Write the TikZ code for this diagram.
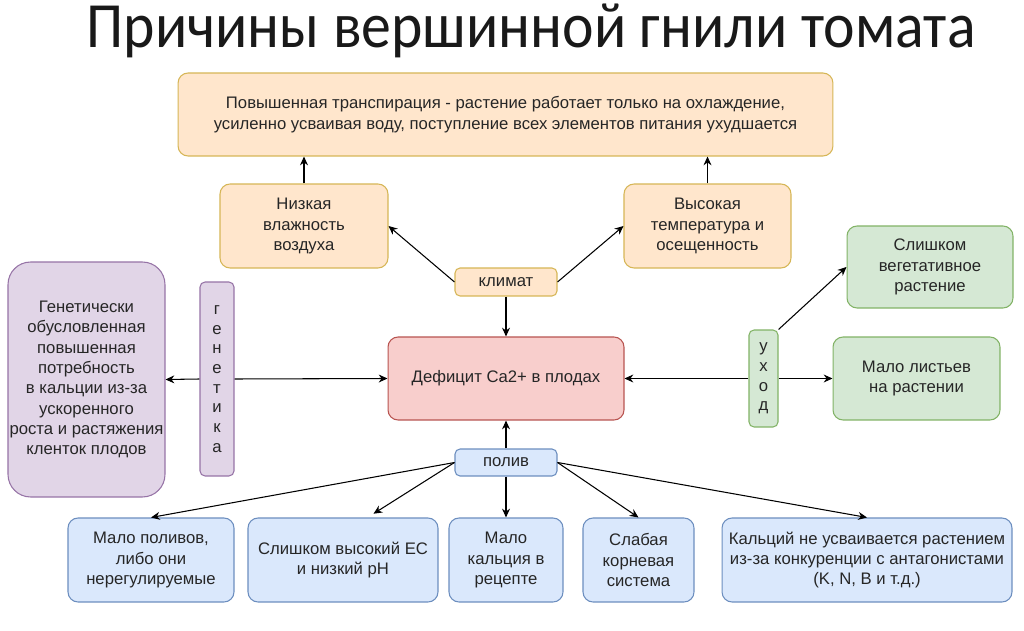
\documentclass[tikz,border=0pt]{standalone}
\usepackage{fontspec}
\usepackage{graphicx}
\setmainfont{Liberation Sans}
\newfontfamily\titlefont{Carlito}
\usetikzlibrary{arrows.meta}
\definecolor{orfill}{HTML}{FFE6CC}
\definecolor{ordraw}{HTML}{D6B656}
\definecolor{redfill}{HTML}{F8CECC}
\definecolor{reddraw}{HTML}{B85450}
\definecolor{purfill}{HTML}{E1D5E7}
\definecolor{purdraw}{HTML}{9673A6}
\definecolor{grfill}{HTML}{D5E8D4}
\definecolor{grdraw}{HTML}{82B366}
\definecolor{blfill}{HTML}{DAE8FC}
\definecolor{bldraw}{HTML}{6C8EBF}
\begin{document}
\begin{tikzpicture}[x=0.02cm,y=-0.02cm,
    every node/.style={font=\fontsize{9.5}{11.6}\selectfont,text=black!85,align=center},
    box/.style={draw,rounded corners=0.2cm,line width=0.6pt,inner sep=2pt},
    orbox/.style={box,fill=orfill,draw=ordraw},
    redbox/.style={box,fill=redfill,draw=reddraw},
    purbox/.style={box,fill=purfill,draw=purdraw},
    grbox/.style={box,fill=grfill,draw=grdraw},
    blbox/.style={box,fill=blfill,draw=bldraw},
    letters/.style={font=\fontsize{9.5}{11.2}\selectfont},
    arr/.style={-{Stealth[length=5pt,width=4.5pt]},line width=0.6pt}]
    \useasboundingbox[fill=white] (0,0) rectangle (1024,631);
    \node[anchor=base,text=black!90,inner sep=0pt] (title) at (531,48)
        {\titlefont\scalebox{1}[1.08]{\fontsize{34}{38}\selectfont Причины вершинной гнили томата}};
    % climate
    \node[orbox,minimum width=13.1cm,minimum height=1.66cm] (transp) at (505.5,114.5)
        {Повышенная транспирация - растение работает только на охлаждение,\\
         усиленно усваивая воду, поступление всех элементов питания ухудшается};
    \node[orbox,minimum width=3.36cm,minimum height=1.68cm] (humid) at (304,226) {Низкая\\влажность\\воздуха};
    \node[orbox,minimum width=3.34cm,minimum height=1.68cm] (heat) at (707.5,226) {Высокая\\температура и\\осещенность};
    \node[orbox,rounded corners=0.1cm,minimum width=2.04cm,minimum height=0.56cm] (klimat) at (506,282) {климат};
    % centre
    \node[redbox,minimum width=4.72cm,minimum height=1.66cm] (defic) at (506,378.5) {Дефицит Ca2+ в плодах};
    % genetics
    \node[purbox,letters,rounded corners=0.1cm,minimum width=0.68cm,minimum height=3.88cm] (genet) at (217,379)
        {г\\е\\н\\е\\т\\и\\к\\а};
    \node[purbox,rounded corners=0.45cm,minimum width=3.14cm,minimum height=4.7cm,inner sep=0pt] (gendemand) at (86.5,379.5)
        {Генетически\\обусловленная\\повышенная\\потребность\\в кальции из-за\\ускоренного\\роста и растяжения\\кленток плодов};
    % care
    \node[grbox,letters,rounded corners=0.1cm,minimum width=0.58cm,minimum height=1.94cm] (uhod) at (763.5,378.5) {у\\х\\о\\д};
    \node[grbox,minimum width=3.32cm,minimum height=1.64cm] (veget) at (930,267) {Слишком\\вегетативное\\растение};
    \node[grbox,minimum width=3.34cm,minimum height=1.66cm] (leaves) at (916.5,378.5) {Мало листьев\\на растении};
    % watering
    \node[blbox,rounded corners=0.1cm,minimum width=2.04cm,minimum height=0.54cm] (poliv) at (506,462.5) {полив};
    \node[blbox,minimum width=3.32cm,minimum height=1.68cm] (few) at (151,560) {Мало поливов,\\либо они\\нерегулируемые};
    \node[blbox,minimum width=3.8cm,minimum height=1.68cm] (ec) at (343,560) {Слишком высокий EC\\и низкий pH};
    \node[blbox,minimum width=2.28cm,minimum height=1.68cm] (recipe) at (506,560) {Мало\\кальция в\\рецепте};
    \node[blbox,minimum width=2.22cm,minimum height=1.68cm] (roots) at (638.5,560) {Слабая\\корневая\\система};
    \node[blbox,minimum width=5.8cm,minimum height=1.68cm] (antag) at (867,560)
        {Кальций не усваивается растением\\из-за конкуренции с антагонистами\\(K, N, B и т.д.)};
    % arrows
    \draw[arr] (humid.north) -- (humid.north |- transp.south);
    \draw[arr] (heat.north) -- (heat.north |- transp.south);
    \draw[arr] (klimat.west) -- (humid.east);
    \draw[arr] (klimat.east) -- (heat.west);
    \draw[arr] (klimat.south) -- (defic.north);
    \draw[arr] (genet.west) -- (gendemand.east);
    \draw[arr] (genet.east) -- (defic.west);
    \draw[arr] (uhod.west) -- (defic.east);
    \draw[arr] (uhod.east) -- (leaves.west);
    \draw[arr] (uhod.north east) -- (veget.west);
    \draw[arr] (poliv.north) -- (defic.south);
    \draw[arr] (poliv.west) -- (few.north);
    \draw[arr,shorten >=0.14cm] (poliv.west) -- (ec.60);
    \draw[arr] (poliv.south) -- (recipe.north);
    \draw[arr] (poliv.east) -- (roots.north);
    \draw[arr] (poliv.east) -- (antag.north);
\end{tikzpicture}
\end{document}
